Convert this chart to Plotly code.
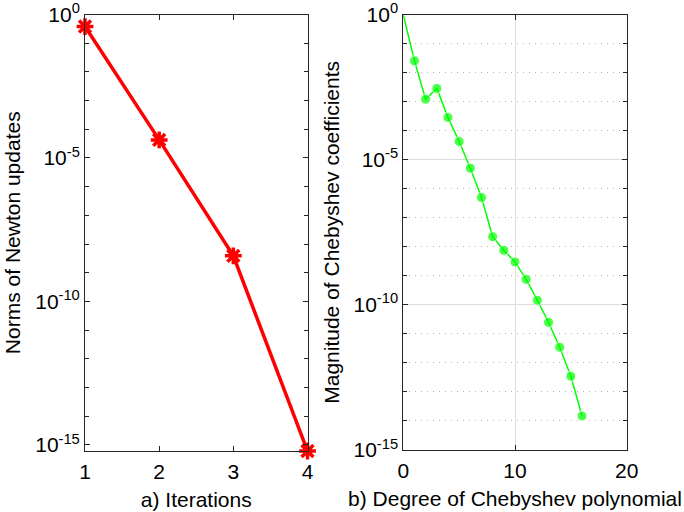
import plotly.graph_objects as go

# ---- data ----
iterations = [1, 2, 3, 4]
newton_norms = [10**-0.42, 10**-4.37, 10**-8.41, 10**-15.21]

degrees = list(range(17))
cheb_log = [0.0, -1.59, -2.91, -2.54, -3.54, -4.37, -5.29, -6.30, -7.65,
            -8.12, -8.52, -9.12, -9.84, -10.60, -11.46, -12.46, -13.83]
cheb_coeffs = [10**v for v in cheb_log]

major_vals = [1, 1e-5, 1e-10, 1e-15]
major_text = ["10<sup>0</sup>", "10<sup>-5</sup>", "10<sup>-10</sup>", "10<sup>-15</sup>"]
decade_vals = [10**-k for k in range(16)]

FONT = "Liberation Sans, Arial, sans-serif"
AX = "#262626"

fig = go.Figure()
fig.add_trace(go.Scatter(
    x=iterations, y=newton_norms, mode="lines+markers",
    line=dict(color="#ff0000", width=3.5),
    marker=dict(symbol="asterisk-open", size=14, color="#ff0000",
                line=dict(color="#ff0000", width=3.5)),
    cliponaxis=False, xaxis="x", yaxis="y", showlegend=False))

sizes = [0] + [10] * (len(degrees) - 1)
fig.add_trace(go.Scatter(
    x=degrees, y=cheb_coeffs, mode="lines+markers",
    line=dict(color="#00ff00", width=1.5),
    marker=dict(symbol="circle", size=sizes, color="#00ff00"),
    cliponaxis=True, xaxis="x2", yaxis="y2", showlegend=False))

common_ax = dict(showline=True, linecolor=AX, linewidth=1, mirror="ticks",
                 ticks="inside", ticklen=5, tickcolor=AX, zeroline=False,
                 automargin=False,
                 tickfont=dict(family=FONT, size=21, color="#000000"))

fig.update_layout(
    width=684, height=512, margin=dict(l=0, r=0, t=0, b=0),
    paper_bgcolor="white", plot_bgcolor="white",
    font=dict(family=FONT, color="#000000"),
    xaxis=dict(domain=[85/684, 307.5/684], range=[1, 4], tickvals=iterations,
               showgrid=False, anchor="y", ticklabelstandoff=2,
               title=dict(text="a) Iterations", font=dict(size=21), standoff=10),
               **common_ax),
    yaxis=dict(domain=[1-451/512, 1-14.5/512], type="log", range=[-15.21, 0],
               tickvals=major_vals, ticktext=major_text, showgrid=False, anchor="x",
               minor=dict(tickvals=decade_vals, ticks="inside", ticklen=4,
                          tickcolor=AX, showgrid=False),
               title=dict(text="Norms of Newton updates", font=dict(size=21), standoff=8),
               **common_ax),
    xaxis2=dict(domain=[403.3/684, 626.7/684], range=[0, 20], tickvals=[0, 10, 20],
                showgrid=True, gridcolor="#dcdcdc", gridwidth=1, anchor="y2",
                ticklabelstandoff=2,
                title=dict(text="b) Degree of Chebyshev polynomial", font=dict(size=21), standoff=10),
                **common_ax),
    yaxis2=dict(domain=[1-450/512, 1-14.7/512], type="log", range=[-15, 0],
                tickvals=major_vals, ticktext=major_text, anchor="x2",
                showgrid=True, gridcolor="#dcdcdc", gridwidth=1,
                minor=dict(tickvals=decade_vals, ticks="inside", ticklen=4,
                           tickcolor=AX, showgrid=True, gridcolor="#b8b8b8",
                           griddash="1px,5px", gridwidth=1),
                title=dict(text="Magnitude of Chebyshev coefficients", font=dict(size=21), standoff=8),
                **common_ax),
)

fig.write_html("out.html")
